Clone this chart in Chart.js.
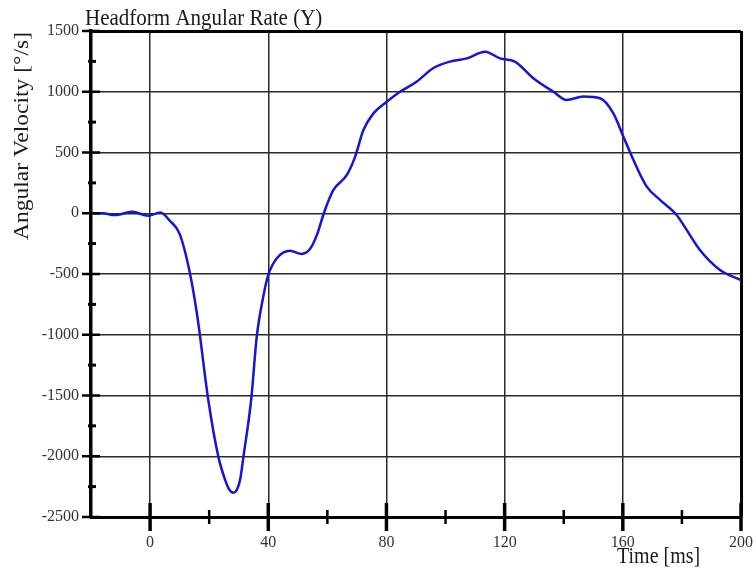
<!DOCTYPE html>
<html>
<head>
<meta charset="utf-8">
<script src="https://cdn.jsdelivr.net/npm/chart.js@4/dist/chart.umd.min.js"></script>
<style>
html,body{margin:0;padding:0;background:#fff;}
canvas{display:block;}
</style>
</head>
<body>
<canvas id="c" width="755" height="573"></canvas>
<script>
// ---- data ----
const chartTitle = 'Headform Angular Rate (Y)';
const xTitle = 'Time [ms]';
const yTitle = 'Angular Velocity [°/s]';
const timeMs = [-20,-16,-12,-6,-0.7,3.5,6.8,10,13.5,16,19.7,23.1,25.4,26.8,28.2,29.5,30.5,31.6,34.2,36.1,38.3,40,42.9,47.4,51.3,54.1,56.6,58.8,62,66.6,69.4,72.2,75.6,80.1,84.6,90.2,95.8,101.5,107.2,113.4,118.4,123.5,129.7,136.5,141,146.6,152.3,156.8,160.2,163.6,168.1,172.6,178.2,181.6,186.1,192.9,200];
const angVel = [0,0,-15,12,-20,6,-65,-170,-495,-850,-1537,-2003,-2195,-2275,-2300,-2270,-2190,-2003,-1537,-1016,-687,-508,-370,-308,-335,-295,-170,0,190,315,466,685,822,918,1000,1083,1193,1248,1275,1330,1275,1248,1111,1000,932,960,946,822,630,438,219,110,-14,-137,-302,-467,-550];
const xMin = -20, xMax = 200, xStep = 20, xLabelStep = 40;
const yMin = -2500, yMax = 1500, yStep = 250, yLabelStep = 500;

const FONT = '"Liberation Serif","Times New Roman",serif';

const points = timeMs.map((t, i) => ({x: t, y: angVel[i]}));

const decor = {
  id: 'decor',
  beforeDraw(chart) {
    const ctx = chart.ctx;
    ctx.save();
    ctx.fillStyle = '#fff';
    ctx.fillRect(0, 0, chart.width, chart.height);
    ctx.restore();
  },
  afterDraw(chart) {
    const {ctx, chartArea: a} = chart;
    const xs = chart.scales.x, ys = chart.scales.y;
    ctx.save();
    ctx.strokeStyle = '#000';
    for (let t = 0; t <= xMax; t += xStep) {
      const px = xs.getPixelForValue(t);
      const major = t % xLabelStep === 0;
      ctx.lineWidth = major ? 3.5 : 2.5;
      ctx.beginPath();
      ctx.moveTo(px, a.bottom - (major ? 14 : 7));
      ctx.lineTo(px, a.bottom + (major ? 14 : 7));
      ctx.stroke();
    }
    for (let v = yMin; v <= yMax; v += yStep) {
      const py = ys.getPixelForValue(v);
      const major = v % yLabelStep === 0;
      ctx.lineWidth = major ? 2.5 : 3;
      ctx.beginPath();
      ctx.moveTo(a.left - (major ? 9 : 3), py);
      ctx.lineTo(a.left + (major ? 9 : 5), py);
      ctx.stroke();
    }
    ctx.fillStyle = '#1a1a1a';
    ctx.textAlign = 'left';
    ctx.textBaseline = 'alphabetic';
    ctx.font = '21px ' + FONT;
    ctx.save();
    ctx.translate(85, 25);
    ctx.scale(1, 1.12);
    ctx.fillText(chartTitle, 0, 0);
    ctx.restore();

    ctx.font = '20px ' + FONT;
    ctx.save();
    ctx.translate(617, 563);
    ctx.scale(1, 1.12);
    ctx.fillText(xTitle, 0, 0);
    ctx.restore();

    ctx.font = '21px ' + FONT;
    ctx.save();
    ctx.translate(28, 240);
    ctx.rotate(-Math.PI / 2);
    ctx.scale(1.12, 1);
    ctx.fillText(yTitle, 0, 0);
    ctx.restore();
    ctx.restore();
  }
};

new Chart(document.getElementById('c'), {
  type: 'line',
  data: {
    datasets: [{
      data: points,
      borderColor: '#1515d6',
      borderWidth: 2.5,
      pointRadius: 0,
      fill: false,
      cubicInterpolationMode: 'monotone'
    }]
  },
  options: {
    responsive: false,
    animation: false,
    devicePixelRatio: 1,
    layout: {padding: {top: 31, right: 14, left: 0, bottom: 0}},
    plugins: {legend: {display: false}, tooltip: {enabled: false}, title: {display: false}},
    scales: {
      x: {
        type: 'linear',
        min: xMin, max: xMax,
        afterFit(s) { s.height = 56; s.paddingRight = 0; s.paddingLeft = 0; },
        ticks: {
          stepSize: xStep,
          autoSkip: false,
          maxRotation: 0,
          padding: 16,
          color: '#333',
          font: {family: FONT, size: 16},
          callback: v => (v % xLabelStep === 0 && v >= 0) ? String(v) : ''
        },
        grid: {
          drawTicks: false,
          color: c => {
            const v = c.tick ? c.tick.value : null;
            if (v === xMax) return '#000';
            if (v !== null && v % xLabelStep === 0 && v > xMin) return '#2a2a2a';
            return 'rgba(0,0,0,0)';
          },
          lineWidth: c => (c.tick && c.tick.value === xMax) ? 3 : 1.5
        },
        border: {color: '#000', width: 3}
      },
      y: {
        type: 'linear',
        min: yMin, max: yMax,
        afterFit(s) { s.width = 91; s.paddingTop = 0; s.paddingBottom = 0; },
        ticks: {
          stepSize: yStep,
          autoSkip: false,
          padding: 12,
          color: '#333',
          font: {family: FONT, size: 16},
          callback: v => (v % yLabelStep === 0) ? String(v) : ''
        },
        grid: {
          drawTicks: false,
          color: c => {
            const v = c.tick ? c.tick.value : null;
            if (v === yMax) return '#000';
            if (v !== null && v % yLabelStep === 0 && v > yMin) return '#2a2a2a';
            return 'rgba(0,0,0,0)';
          },
          lineWidth: c => (c.tick && c.tick.value === yMax) ? 3 : 1.5
        },
        border: {color: '#000', width: 3.5}
      }
    }
  },
  plugins: [decor]
});
</script>
</body>
</html>
